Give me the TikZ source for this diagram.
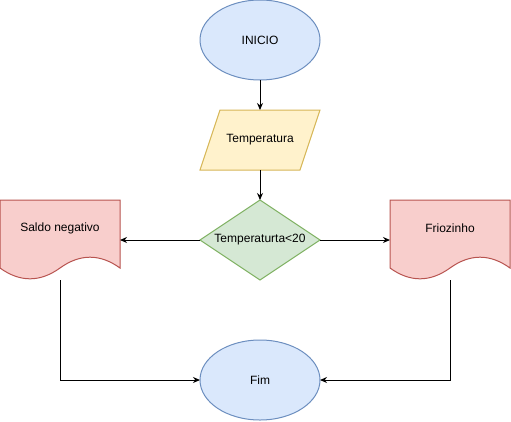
\documentclass[tikz,border=0pt]{standalone}
\usepackage{fontspec}
\setmainfont{Liberation Sans}
\usetikzlibrary{arrows.meta,positioning,shapes.geometric,backgrounds}
\definecolor{termfill}{HTML}{DAE8FC}
\definecolor{termline}{HTML}{6C8EBF}
\definecolor{infill}{HTML}{FFF2CC}
\definecolor{inline}{HTML}{D6B656}
\definecolor{decfill}{HTML}{D5E8D4}
\definecolor{decline}{HTML}{82B366}
\definecolor{docfill}{HTML}{F8CECC}
\definecolor{docdraw}{HTML}{B85450}
\tikzset{
  >={Stealth[length=7pt,width=6pt]},
  font=\fontsize{12}{14}\selectfont,
  terminal/.style={ellipse,draw=termline,line width=1pt,fill=termfill,outer sep=0pt,
                   minimum width=120pt,minimum height=80pt,inner sep=0pt},
  inputbox/.style={minimum width=100pt,minimum height=60pt,inner sep=0pt,outer sep=0pt},
  inputline/.style={draw=inline,line width=1pt,fill=infill},
  decision/.style={diamond,draw=decline,line width=1pt,fill=decfill,outer sep=0pt,
                   minimum width=120pt,minimum height=80pt,inner sep=0pt},
  docbox/.style={minimum width=120pt,minimum height=56pt,inner sep=0pt,outer sep=0pt},
  docline/.style={draw=docdraw,line width=1pt,fill=docfill},
  flow/.style={->,line width=1pt},
}
% slanted input box, drawn round a named node
\newcommand\inoutline[1]{%
  \draw[inputline] ([xshift=-10pt]#1.south west) -- ([xshift=10pt]#1.north west)
    -- ([xshift=10pt]#1.north east) -- ([xshift=-10pt]#1.south east) -- cycle;}
% document shape with wavy bottom, drawn round a named node
\newcommand\docoutline[1]{%
  \draw[docline] (#1.north west) -- (#1.north east) -- ([yshift=-12pt]#1.south east)
    .. controls +(-20,-14.4) and +(20,-14.4) .. ([yshift=-12pt]#1.south)
    .. controls +(-20,14.4) and +(20,14.4) .. ([yshift=-12pt]#1.south west) -- cycle;}
\begin{document}
\begin{tikzpicture}[x=1pt,y=-1pt]
  \useasboundingbox (0,0) rectangle (511,421);
  \node[terminal] (inicio) at (260,40) {INICIO};
  \node[inputbox,below=30pt of inicio] (temp) {Temperatura};
  \node[decision,below=30pt of temp] (cond) {\makebox[0pt]{Temperaturta<20}};
  \node[docbox] (saldo) at (60,228) {Saldo negativo};
  \node[docbox] (frio) at (450,228) {Friozinho};
  \node[terminal,below=60pt of cond] (fim) {Fim};
  \begin{scope}[on background layer]
    \inoutline{temp}
    \docoutline{saldo}
    \docoutline{frio}
  \end{scope}

  \draw[flow] (inicio) -- (temp);
  \draw[flow] (temp) -- (cond);
  \draw[flow] (cond.west) -- (cond.west -| saldo.east);
  \draw[flow] (cond.east) -- (cond.east -| frio.west);
  \draw[flow] ([yshift=-24pt]saldo.south) |- (fim.west);
  \draw[flow] ([yshift=-24pt]frio.south) |- (fim.east);
\end{tikzpicture}
\end{document}
